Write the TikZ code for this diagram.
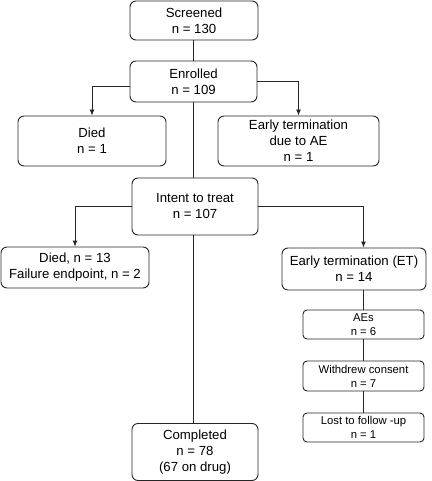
\documentclass[tikz,border=0pt]{standalone}
\usepackage{fontspec}
\setmainfont{Liberation Sans}
\usetikzlibrary{arrows.meta,calc}
\tikzset{
  bigbox/.style={draw=black!85, line width=0.9pt, rounded corners=6pt, align=center, inner sep=0pt,
    font=\fontsize{13.2}{16}\selectfont},
  smallbox/.style={draw=black!85, line width=0.9pt, rounded corners=4pt, align=center, inner sep=0pt,
    font=\fontsize{11.3}{14}\selectfont},
  link/.style={draw=black!85, line width=0.9pt},
  arr/.style={link, -{Latex[length=6pt,width=5pt]}}
}
\begin{document}
\begin{tikzpicture}[x=1pt,y=-1pt]
\useasboundingbox (0,0) rectangle (431,481);
\node[bigbox, minimum width=128pt, minimum height=39pt] (scr) at (194,20.5) {Screened\\n = 130};
\node[bigbox, minimum width=127pt, minimum height=41pt] (enr) at (193.5,81.5) {Enrolled\\n = 109};
\node[bigbox, minimum width=148pt, minimum height=50pt] (died1) at (92,141) {Died\\n = 1};
\node[bigbox, minimum width=161pt, minimum height=50pt] (etae) at (298.5,141) {Early termination\\due to AE\\n = 1};
\node[bigbox, minimum width=126pt, minimum height=57pt] (itt) at (195,206.5) {Intent to treat\\n = 107};
\node[bigbox, minimum width=148pt, minimum height=41pt] (died13) at (75,267.5) {Died, n = 13\\Failure endpoint, n = 2};
\node[bigbox, minimum width=144pt, minimum height=42pt] (et) at (354,269) {Early termination (ET)\\n = 14};
\node[smallbox, minimum width=121pt, minimum height=29pt] (aes) at (363.5,324.5) {AEs\\n = 6};
\node[smallbox, minimum width=121pt, minimum height=30pt] (wd) at (363.5,376) {Withdrew consent\\n = 7};
\node[smallbox, minimum width=121pt, minimum height=29pt] (lost) at (363.5,427.5) {Lost to follow -up\\n = 1};
\node[bigbox, minimum width=126pt, minimum height=57pt] (comp) at (195,452) {Completed\\n = 78\\(67 on drug)};

\draw[link] (scr.south -| enr.north) -- (enr.north);
\draw[arr] ([yshift=-5pt]enr.west) -| (died1.north);
\draw[arr] (enr.east) -| (etae.north);
\draw[link] (enr.south) -- (enr.south |- itt.north);
\draw[arr] (itt.west) -| (died13.north);
\draw[arr] (itt.east) -| (aes.north |- et.north);
\draw[link] (itt.south -| enr.south) -- (comp.north -| enr.south);
\draw[link] (aes.north |- et.south) -- (aes.north);
\draw[link] (aes.south) -- (wd.north);
\draw[link] (wd.south) -- (lost.north);
\end{tikzpicture}
\end{document}
